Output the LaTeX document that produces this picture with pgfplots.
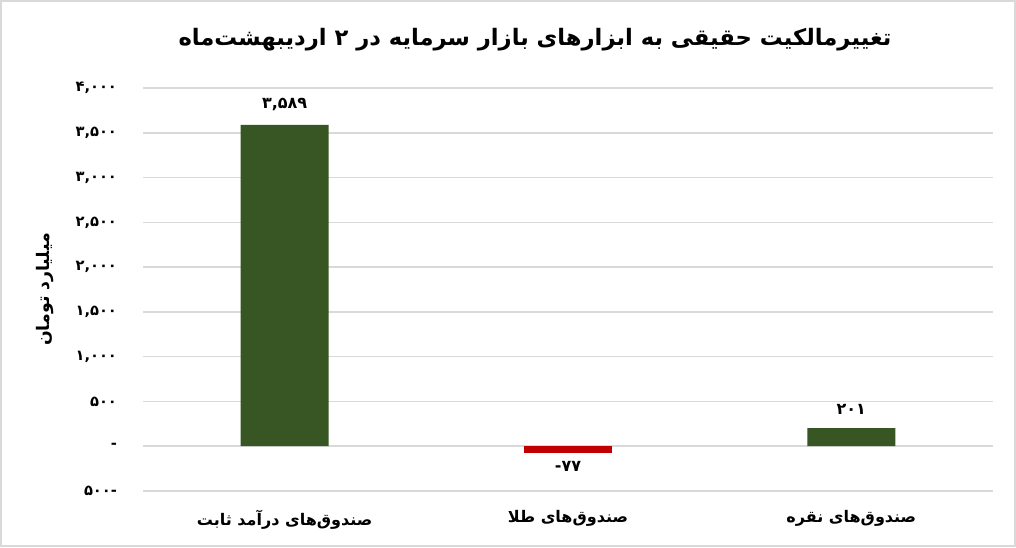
\documentclass[border=0pt]{standalone}
\usepackage{pgfplots}
\pgfplotsset{compat=1.18}
\usepackage{pgfplotstable}
\usepackage{fontspec}
\TeXXeTstate=1
\newfontfamily\fa[Script=Arabic]{DejaVu Sans}
\definecolor{bargreen}{HTML}{375623}
\definecolor{barred}{HTML}{C00000}
\definecolor{gridgray}{HTML}{D9D9D9}

\pgfplotstableread{
x y label
0 3589 ۳,۵۸۹
2 201 ۲۰۱
}\greendata
\pgfplotstableread{
x y label
1 -77 ۷۷-
}\reddata

\begin{document}
\begin{tikzpicture}[x=0.75pt,y=0.75pt]
\useasboundingbox (0,0) rectangle (1016,547);
\draw[gridgray, line width=1.5pt] (1,1) rectangle (1015,546);
\node[font=\fa\bfseries\fontsize{17}{20}\selectfont] at (535,507) {\beginR تغییرمالکیت حقیقی به ابزارهای بازار سرمایه در ۲ اردیبهشت‌ماه\endR};
\begin{axis}[
  at={(107.25pt,42pt)}, anchor=south west,
  scale only axis, width=637.5pt, height=302.25pt,
  xmin=-0.5, xmax=2.5, ymin=-500, ymax=4000,
  ytick={-500,0,500,1000,1500,2000,2500,3000,3500,4000},
  yticklabels={-۵۰۰,-,۵۰۰,{۱,۰۰۰},{۱,۵۰۰},{۲,۰۰۰},{۲,۵۰۰},{۳,۰۰۰},{۳,۵۰۰},{۴,۰۰۰}},
  xtick={0,1,2},
  xticklabels={{\beginR صندوق‌های درآمد ثابت\endR},{\beginR صندوق‌های طلا\endR},{\beginR صندوق‌های نقره\endR}},
  axis line style={draw=none}, major tick length=0pt,
  ymajorgrids, grid style={gridgray, line width=1.1pt},
  yticklabel style={font=\fa\bfseries\fontsize{11}{13}\selectfont, xshift=-16pt},
  xticklabel style={font=\fa\bfseries\fontsize{12}{14}\selectfont, yshift=-11pt},
  ylabel={\beginR میلیارد تومان\endR},
  every axis y label/.style={at={(axis description cs:-0.115,0.5)}, rotate=90, anchor=center, font=\fa\bfseries\fontsize{13}{15}\selectfont},
  ybar, bar width=66pt, bar shift=0pt,
  nodes near coords, point meta=explicit symbolic,
  every node near coord/.append style={font=\fa\bfseries\fontsize{12}{14}\selectfont, black},
  clip=false,
]
\addplot[fill=bargreen, draw=none, every node near coord/.append style={anchor=south, yshift=7pt}] table[x=x,y=y,meta=label] {\greendata};
\addplot[fill=barred, draw=none, every node near coord/.append style={anchor=north, yshift=-3pt}] table[x=x,y=y,meta=label] {\reddata};
\end{axis}
\end{tikzpicture}
\end{document}
